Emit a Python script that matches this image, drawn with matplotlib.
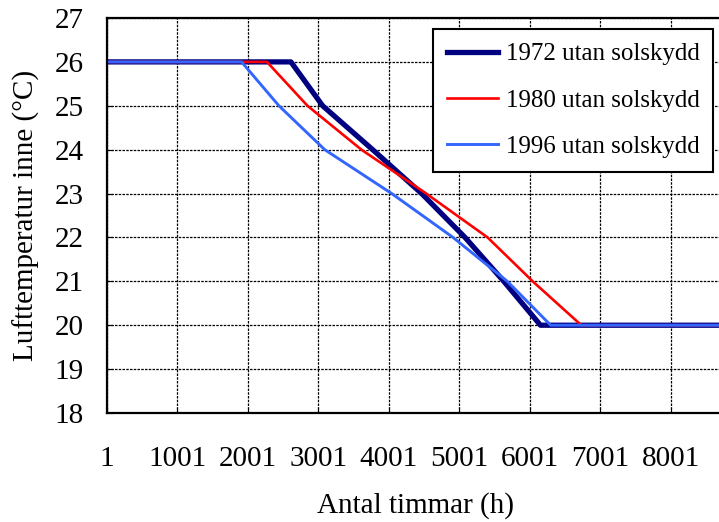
import matplotlib
matplotlib.use("Agg")
import matplotlib.pyplot as plt

# hours where each series leaves 26 °C and reaches 25, 24, ... 20 °C
temps = [26, 26, 25, 24, 23, 22, 21, 20, 20]
hours_1972 = [1, 2610, 3060, 3770, 4465, 5080, 5630, 6150, 8760]
hours_1980 = [1, 2270, 2845, 3610, 4530, 5400, 6040, 6730, 8760]
hours_1996 = [1, 1910, 2440, 3090, 4040, 4910, 5680, 6295, 8760]

labels = ["1972 utan solskydd", "1980 utan solskydd", "1996 utan solskydd"]
xticks = [1, 1001, 2001, 3001, 4001, 5001, 6001, 7001, 8001]
yticks = [18, 19, 20, 21, 22, 23, 24, 25, 26, 27]

plt.rcParams['font.family'] = ['Liberation Serif', 'DejaVu Serif']

fig = plt.figure(figsize=(7.19, 5.22), dpi=100)
ax = fig.add_axes([0.1488, 0.2088, 0.8588, 0.7567])

ax.plot(hours_1972, temps, color='#000080', lw=3.8, label=labels[0])
ax.plot(hours_1980, temps, color='#FF0000', lw=1.9, label=labels[1])
ax.plot(hours_1996, temps, color='#3366FF', lw=2.1, label=labels[2])

ax.set_xlim(1, 8760)
ax.set_ylim(18, 27)
ax.set_xticks(xticks)
ax.set_yticks(yticks)
ax.tick_params(axis='x', direction='in', length=4, pad=24, labelsize=21)
ax.tick_params(axis='y', direction='in', length=4, pad=17, labelsize=21)
ax.grid(True, color='black', linestyle=(0, (2, 1)), linewidth=0.9)

for s in ax.spines.values():
    s.set_linewidth(1.6)
    s.set_color('black')

ax.set_xlabel("Antal timmar (h)", fontsize=21, labelpad=14)
ax.set_ylabel("Lufttemperatur inne (°C)", fontsize=21, labelpad=10)

leg = ax.legend(loc='upper left', bbox_to_anchor=(0.528, 0.972), fontsize=18,
                frameon=True, fancybox=False, framealpha=1, edgecolor='black',
                handlelength=2.05, handletextpad=0.3, labelspacing=0.95,
                borderpad=0.55, borderaxespad=0)
leg.get_frame().set_linewidth(1.5)

fig.savefig("out.png", dpi=100)
